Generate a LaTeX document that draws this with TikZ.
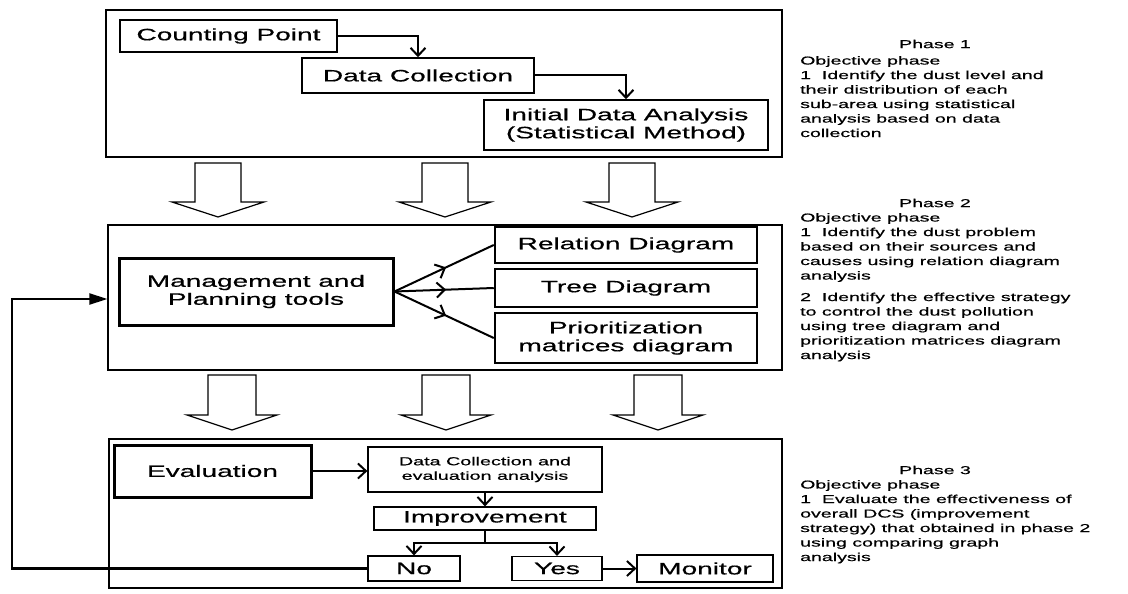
\documentclass[tikz,border=0pt]{standalone}
\usepackage{fontspec}
\setmainfont{Liberation Sans}[FakeStretch=1.7,FakeBold=0.6]
\usetikzlibrary{arrows.meta,decorations.markings}

\begin{document}
\begin{tikzpicture}[x=1pt,y=-1pt]
  \tikzset{box/.style={draw,rectangle,line width=1.5pt,inner sep=0pt,align=center,
      font=\fontsize{16.5}{18}\selectfont},
    heavybox/.style={box,line width=3pt},
    smallbox/.style={box,line width=1.2pt},
    phasebox/.style={draw,rectangle,line width=1.2pt,inner sep=0pt},
    conn/.style={line width=2pt,-{Straight Barb[length=8pt,width=15pt,line width=2pt]}},
    midarrow/.style={line width=2pt,postaction={decorate},
      decoration={markings,mark=at position 0.52 with
        {\arrow{Straight Barb[length=8pt,width=15pt,line width=2pt]}}}},
    feedback/.style={line width=2.2pt,-{Triangle[length=18pt,width=11pt]}},
    blockarrow/.style={draw,fill=white,line width=1.2pt,line join=miter},
    phasehead/.style={inner sep=0pt,font=\fontsize{11.5}{13}\selectfont},
    notes/.style={anchor=north west,align=left,inner sep=0pt,
      font=\fontsize{11.5}{14.5}\selectfont}}

  \useasboundingbox (0,0) rectangle (1128,594);

  %% the three phase frames
  \node[phasebox,minimum width=676pt,minimum height=147pt] (ph1) at (444,83.5) {};
  \node[phasebox,minimum width=674pt,minimum height=145pt] (ph2) at (445,297.5) {};
  \node[phasebox,minimum width=673pt,minimum height=149pt] (ph3) at (445.5,513.5) {};

  %% big hollow arrows between the phases
  \foreach \cx in {218,445,632} {%
    \draw[blockarrow] ({\cx-23},163) -- ({\cx+23},163) -- ({\cx+23},202)
      -- ({\cx+46},202) -- (\cx,217) -- ({\cx-46},202) -- ({\cx-23},202) -- cycle;
  }
  \foreach \cx in {232,446,658} {%
    \draw[blockarrow] ({\cx-24},375) -- ({\cx+24},375) -- ({\cx+24},415)
      -- ({\cx+45},415) -- (\cx,430) -- ({\cx-45},415) -- ({\cx-24},415) -- cycle;
  }

  %% phase 1
  \node[box,minimum width=217pt,minimum height=32pt] (count) at (228.5,36) {Counting Point};
  \node[box,minimum width=232pt,minimum height=35pt] (collect) at (418,75.5) {Data Collection};
  \node[box,minimum width=284pt,minimum height=50pt] (initial) at (626,125)
    {Initial Data Analysis\\(Statistical Method)};
  \draw[conn] (count.east) -| (collect.north);
  \draw[conn] (collect.east) -| (initial.north);

  %% phase 2
  \node[heavybox,minimum width=274pt,minimum height=67pt] (manage) at (256,291.5)
    {Management and\\Planning tools};
  \node[heavybox,line width=2.5pt,minimum width=262pt,minimum height=36pt] (relation) at (626,245)
    {Relation Diagram};
  \node[heavybox,line width=2.5pt,minimum width=262pt,minimum height=38pt] (tree) at (626,288)
    {Tree Diagram};
  \node[heavybox,line width=2.5pt,minimum width=262pt,minimum height=50pt] (prior) at (626,338)
    {Prioritization\\matrices diagram};
  \draw[midarrow] (manage.east) -- (relation.west);
  \draw[midarrow] (manage.east) -- (tree.west);
  \draw[midarrow] (manage.east) -- (prior.west);

  %% phase 3
  \node[heavybox,minimum width=197pt,minimum height=52pt] (evaluate) at (212.5,471) {Evaluation};
  \node[smallbox,minimum width=234pt,minimum height=45pt,
    font=\fontsize{11.6}{14.5}\selectfont] (evalcollect) at (485,469.5)
    {Data Collection and\\evaluation analysis};
  \node[smallbox,minimum width=222pt,minimum height=23pt] (improve) at (485,518.5) {Improvement};
  \node[smallbox,minimum width=92pt,minimum height=25pt] (no) at (414,568.5) {No};
  \node[smallbox,minimum width=90pt,minimum height=24pt] (yes) at (557,568.5) {Yes};
  \node[smallbox,minimum width=136pt,minimum height=27pt] (monitor) at (705,568.5) {Monitor};
  \coordinate (split) at (485,543);
  \draw[conn] (evaluate.east) -- (evaluate.east -| evalcollect.west);
  \draw[conn] (evalcollect.south) -- (improve.north);
  \draw[line width=2pt] (improve.south) -- (split);
  \draw[conn] (split) -| (no.north);
  \draw[conn] (split) -| (yes.north);
  \draw[conn] (yes.east) -- (monitor.west);

  %% back to phase 2 when there is no improvement
  \coordinate (back) at (12,299);
  \draw[feedback] (no.west) -| (back) -- (back -| ph2.west);

  %% objectives of each phase
  \node[phasehead] (head1) at (935,44) {Phase 1};
  \node[notes] (text1) at (800,56) {Objective phase\\1~ Identify the dust level and\\
    their distribution of each\\sub-area using statistical\\analysis based on data\\collection};
  \node[phasehead] (head2) at (935,203) {Phase 2};
  \node[notes] (text2) at (800,213) {Objective phase\\1~ Identify the dust problem\\
    based on their sources and\\causes using relation diagram\\analysis\\[7pt]
    2~ Identify the effective strategy\\to control the dust pollution\\
    using tree diagram and\\prioritization matrices diagram\\analysis};
  \node[phasehead] (head3) at (935,470) {Phase 3};
  \node[notes] (text3) at (800,480) {Objective phase\\1~ Evaluate the effectiveness of\\
    overall DCS (improvement\\strategy) that obtained in phase 2\\using comparing graph\\analysis};

\end{tikzpicture}
\end{document}
